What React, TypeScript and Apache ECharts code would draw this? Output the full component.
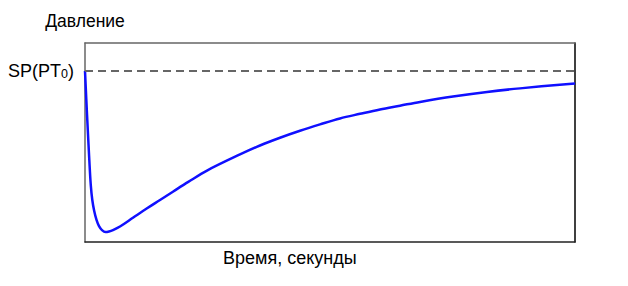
import React, { useEffect, useRef } from "react";
import * as echarts from "echarts";

const timeValues = [0, 0.27, 0.57, 0.88, 1.18, 1.49, 1.88, 2.35, 2.86, 3.47, 4.18, 4.9, 5.71, 7.14, 9.86, 12.59, 15.31, 18.02, 21.08, 24.9, 31.63, 35.71, 39.8, 43.88, 47.96, 52.04, 56.12, 60.2, 64.29, 68.37, 75.1, 82.04, 88.78, 100];
const pressureValues = [85.9, 71.4, 56.3, 41.2, 28.6, 21.1, 15.6, 11.1, 8.0, 6.0, 5.0, 5.3, 6.0, 7.8, 12.3, 16.8, 21.1, 25.4, 30.2, 35.9, 44.0, 48.5, 52.4, 55.9, 59.1, 62.1, 64.4, 66.6, 68.5, 70.4, 73.1, 75.4, 77.2, 79.7];
const setPoint = 85.9;
const yAxisTitle = "Давление";
const xAxisTitle = "Время, секунды";

const FONT = "'Liberation Sans', Arial, sans-serif";

export default function App() {
  const ref = useRef<HTMLDivElement>(null);
  useEffect(() => {
    if (!ref.current) return;
    const chart = echarts.init(ref.current, null, { renderer: "svg" });
    const data = timeValues.map((t, i) => [t, pressureValues[i]]);
    const hidden = { axisTick: { show: false }, axisLabel: { show: false }, splitLine: { show: false } };
    chart.setOption({
      animation: false,
      backgroundColor: "#ffffff",
      grid: { left: 85, right: 53, top: 43, bottom: 44, show: false },
      xAxis: [
        {
          type: "value",
          min: 0,
          max: 100,
          position: "bottom",
          axisLine: { show: true, onZero: false, lineStyle: { color: "#222", width: 1.5 } },
          ...hidden,
        },
        {
          type: "value",
          min: 0,
          max: 100,
          position: "top",
          axisLine: { show: true, onZero: false, lineStyle: { color: "#666", width: 1.5 } },
          ...hidden,
        },
      ],
      yAxis: [
        {
          type: "value",
          min: 0,
          max: 100,
          position: "left",
          name: yAxisTitle,
          nameLocation: "end",
          nameGap: 13,
          nameTextStyle: { color: "#000", fontSize: 17.5, fontFamily: FONT },
          axisLine: { show: true, onZero: false, lineStyle: { color: "#666", width: 1.5 } },
          axisTick: { show: false },
          splitLine: { show: false },
          axisLabel: {
            show: true,
            customValues: [setPoint],
            margin: 11,
            formatter: () => "{a|SP(PT}{b|0}{a|)}",
            rich: {
              a: { fontSize: 18, fontFamily: FONT, color: "#000" },
              b: { fontSize: 12.5, fontFamily: FONT, color: "#000", verticalAlign: "bottom", padding: [6, 0, 0, 0] },
            },
          },
        },
        {
          type: "value",
          min: 0,
          max: 100,
          position: "right",
          axisLine: { show: true, onZero: false, lineStyle: { color: "#000", width: 1.5 } },
          ...hidden,
        },
      ],
      graphic: [
        {
          type: "text",
          left: 223,
          top: 249,
          style: { text: xAxisTitle, fontSize: 18, fontFamily: FONT, fill: "#000" },
        },
      ],
      series: [
        {
          type: "line",
          data,
          smooth: 0.35,
          showSymbol: false,
          lineStyle: { color: "#1010ff", width: 2.5 },
          markLine: {
            silent: true,
            symbol: "none",
            label: { show: false },
            lineStyle: { color: "#666", type: [8, 5], width: 2 },
            data: [{ yAxis: setPoint }],
          },
        },
      ],
    });
    return () => chart.dispose();
  }, []);
  return <div ref={ref} style={{ position: "absolute", left: 0, top: 0, width: 628, height: 286 }} />;
}
